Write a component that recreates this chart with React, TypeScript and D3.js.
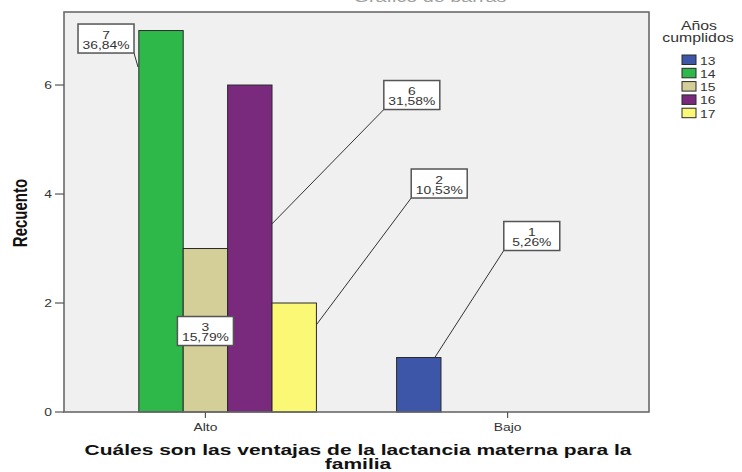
import React from "react";
import * as d3 from "d3";

// Counts of respondents by answer category and age in completed years
const categories = ["Alto", "Bajo"];
const ages = ["13", "14", "15", "16", "17"];
const countsAlto = [0, 7, 3, 6, 2];
const countsBajo = [1, 0, 0, 0, 0];
const yTicks = [0, 2, 4, 6];
const colors = ["#3d56a8", "#2eb84a", "#d4cf98", "#7a2a7c", "#fbf876"];

const W = 742;
const H = 472;
const plot = { left: 64, right: 649, top: 12, bottom: 412 };
const SX = 1.32; // horizontal stretch applied to the lettering
const FONT = "'Liberation Sans', Arial, sans-serif";

// Callout placement, relative to the top-centre of each labelled bar
const callouts: Record<string, { dx: number; dy: number; lx?: number; ly?: number }> = {
  "Bajo|13": { dx: 113, dy: -121.5, lx: 16, ly: 0 },
  "Alto|14": { dx: -55, dy: 8, lx: -23, ly: 36.5 },
  "Alto|15": { dx: 0, dy: 82.5 },
  "Alto|16": { dx: 162, dy: 10, lx: 22, ly: 139 },
  "Alto|17": { dx: 145, dy: -119.5, lx: 22, ly: 22 },
};

function T(props: {
  x: number;
  y: number;
  children: React.ReactNode;
  anchor?: string;
  size: number;
  weight?: string | number;
  fill?: string;
  rotate?: boolean;
  sx?: number;
}) {
  const { x, y, children, anchor = "middle", size, weight = "normal", fill = "#222", rotate, sx = SX } = props;
  const tf = rotate
    ? `translate(${x},${y}) rotate(-90) scale(1,${sx})`
    : `translate(${x},${y}) scale(${sx},1)`;
  return (
    <text
      transform={tf}
      textAnchor={anchor}
      fontSize={size}
      fontWeight={weight}
      fill={fill}
      fontFamily={FONT}
    >
      {children}
    </text>
  );
}

export default function App() {
  const series: Record<string, number[]> = { Alto: countsAlto, Bajo: countsBajo };
  const total = d3.sum(countsAlto) + d3.sum(countsBajo);

  const x0 = d3.scalePoint<string>().domain(categories).range([plot.left, plot.right]).padding(0.468);
  const x1 = d3.scaleBand<string>().domain(ages).range([-111, 111]).padding(0);
  const y = d3.scaleLinear().domain([0, 7.34]).range([plot.bottom, plot.top]);
  const bw = x1.bandwidth();

  const bars: { cat: string; age: string; v: number; x: number; color: string }[] = [];
  categories.forEach((c) => {
    ages.forEach((a, i) => {
      const v = series[c][i];
      if (v > 0) bars.push({ cat: c, age: a, v, x: (x0(c) as number) + (x1(a) as number), color: colors[i] });
    });
  });

  const pct = (v: number) => d3.format(".2f")((v / total) * 100).replace(".", ",") + "%";
  const boxW = 56;
  const boxH = 29;

  return (
    <svg width={W} height={H} style={{ position: "absolute", left: 0, top: 0, background: "#fff" }}>
      {/* chart title, almost entirely above the visible area */}
      <T x={430} y={1.5} size={15} fill="#a0a0a0">
        Gráfico de barras
      </T>

      <rect
        x={plot.left}
        y={plot.top}
        width={plot.right - plot.left}
        height={plot.bottom - plot.top}
        fill="#f0f0f0"
      />

      {bars.map((b) => (
        <rect
          key={b.cat + b.age}
          x={b.x}
          y={y(b.v)}
          width={bw}
          height={y(0) - y(b.v)}
          fill={b.color}
          stroke="#2a2a2a"
          strokeWidth={1}
        />
      ))}

      {/* frame */}
      <rect
        x={plot.left}
        y={plot.top}
        width={plot.right - plot.left}
        height={plot.bottom - plot.top}
        fill="none"
        stroke="#6a6a6a"
        strokeWidth={1.6}
      />

      {/* y axis */}
      {yTicks.map((t) => (
        <g key={t}>
          <line x1={plot.left - 9} x2={plot.left} y1={y(t)} y2={y(t)} stroke="#555" strokeWidth={1.2} />
          <T x={plot.left - 12} y={y(t) + 4} size={10.5} anchor="end" fill="#333">
            {t}
          </T>
        </g>
      ))}
      <T x={27} y={(plot.top + plot.bottom) / 2 + 1} size={15} weight="bold" rotate fill="#111">
        Recuento
      </T>

      {/* x axis */}
      {categories.map((c) => (
        <g key={c}>
          <line x1={x0(c)} x2={x0(c)} y1={plot.bottom} y2={plot.bottom + 6} stroke="#555" strokeWidth={1.2} />
          <T x={x0(c) as number} y={431} size={10.5} fill="#333">
            {c}
          </T>
        </g>
      ))}
      <T x={358} y={455} size={15} weight="bold" fill="#111" sx={1.4}>
        Cuáles son las ventajas de la lactancia materna para la
      </T>
      <T x={358} y={469} size={15} weight="bold" fill="#111" sx={1.4}>
        familia
      </T>

      {/* value callouts */}
      {bars.map((b) => {
        const co = callouts[b.cat + "|" + b.age];
        if (!co) return null;
        const cx = b.x + bw / 2;
        const top = y(b.v);
        const bx = cx + co.dx;
        const by = top + co.dy;
        const left = bx - boxW / 2;
        const topB = by - boxH / 2;
        let leader = null;
        if (co.lx !== undefined && co.ly !== undefined) {
          const sx = co.dx > 0 ? left : left + boxW;
          leader = (
            <line x1={sx} y1={topB + boxH} x2={cx + co.lx} y2={top + co.ly} stroke="#333" strokeWidth={1} />
          );
        }
        return (
          <g key={"c" + b.cat + b.age}>
            {leader}
            <rect x={left} y={topB} width={boxW} height={boxH} fill="#fff" stroke="#555" strokeWidth={1.5} />
            <T x={bx} y={by} size={10.5} fill="#333">
              {b.v}
            </T>
            <T x={bx} y={by + 10} size={10.5} fill="#333">
              {pct(b.v)}
            </T>
          </g>
        );
      })}

      {/* legend */}
      <T x={699} y={30} size={12} fill="#333">
        Años
      </T>
      <T x={698} y={42} size={12} fill="#333">
        cumplidos
      </T>
      {ages.map((a, i) => (
        <g key={a}>
          <rect x={682} y={55 + i * 13.3} width={14} height={9.5} fill={colors[i]} stroke="#2a2a2a" strokeWidth={1} />
          <T x={700} y={64.5 + i * 13.3} size={10.5} anchor="start" fill="#333">
            {a}
          </T>
        </g>
      ))}
    </svg>
  );
}
